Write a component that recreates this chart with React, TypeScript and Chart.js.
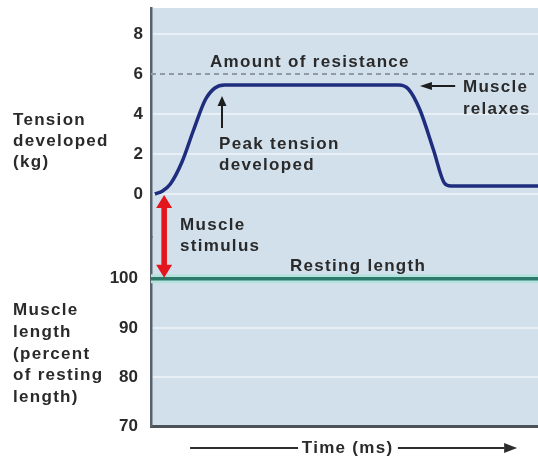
import React, { useEffect, useRef } from "react";
import { Chart, registerables } from "chart.js";

Chart.register(...registerables);

// ---- data ----
const TIME_MS = [1, 3, 5, 8, 11, 14, 16.5, 19, 64, 66.5, 69.5, 73, 75.8, 77.5, 100];
const TENSION_KG = [0, 0.15, 0.5, 1.6, 3.2, 4.7, 5.3, 5.45, 5.45, 5.25, 4.2, 2.2, 0.55, 0.4, 0.4];
const TENSION_TICKS = [0, 2, 4, 6, 8];
const LENGTH_TICKS = [70, 80, 90, 100];
const LENGTH_GRID = [80, 90];
const RESISTANCE_KG = 6;
const RESTING_LENGTH_PCT = 100;
const TIME_RANGE = [0, 100];
const STIMULUS_TIME = 3.4;

const FONT_FAMILY = '"Liberation Sans", Arial, Helvetica, sans-serif';
const TEXT_COLOR = "#2a2a2a";

function lineArrow(
  ctx: CanvasRenderingContext2D,
  x1: number, y1: number, x2: number, y2: number,
  headLen: number, headHalf: number
) {
  const ang = Math.atan2(y2 - y1, x2 - x1);
  const bx = x2 - headLen * Math.cos(ang);
  const by = y2 - headLen * Math.sin(ang);
  ctx.beginPath();
  ctx.moveTo(x1, y1);
  ctx.lineTo(bx, by);
  ctx.stroke();
  const px = -Math.sin(ang) * headHalf;
  const py = Math.cos(ang) * headHalf;
  ctx.beginPath();
  ctx.moveTo(x2, y2);
  ctx.lineTo(bx + px, by + py);
  ctx.lineTo(bx - px, by - py);
  ctx.closePath();
  ctx.fill();
}

function doubleBlockArrow(ctx: CanvasRenderingContext2D, x: number, y1: number, y2: number) {
  const headLen = 13;
  const headHalf = 8;
  const shaftHalf = 2.8;
  ctx.beginPath();
  ctx.moveTo(x, y1);
  ctx.lineTo(x + headHalf, y1 + headLen);
  ctx.lineTo(x + shaftHalf, y1 + headLen);
  ctx.lineTo(x + shaftHalf, y2 - headLen);
  ctx.lineTo(x + headHalf, y2 - headLen);
  ctx.lineTo(x, y2);
  ctx.lineTo(x - headHalf, y2 - headLen);
  ctx.lineTo(x - shaftHalf, y2 - headLen);
  ctx.lineTo(x - shaftHalf, y1 + headLen);
  ctx.lineTo(x - headHalf, y1 + headLen);
  ctx.closePath();
  ctx.fill();
}

const decorPlugin = {
  id: "decor",
  beforeDraw(chart: any) {
    const { ctx, chartArea: a } = chart;
    ctx.save();
    ctx.fillStyle = "#d2e0ec";
    ctx.fillRect(a.left, a.top, a.right - a.left, a.bottom - a.top);
    ctx.restore();
  },
  afterDatasetsDraw(chart: any) {
    const { ctx } = chart;
    const x = chart.scales.x;
    const yT = chart.scales.yT;
    const yL = chart.scales.yL;
    ctx.save();
    // stimulus arrow (red, double-headed) from tension 0 to resting length
    ctx.fillStyle = "#e3161d";
    doubleBlockArrow(
      ctx,
      x.getPixelForValue(STIMULUS_TIME),
      yT.getPixelForValue(0) + 1,
      yL.getPixelForValue(RESTING_LENGTH_PCT) - 1
    );
    // peak tension arrow
    ctx.strokeStyle = "#1e1e1e";
    ctx.fillStyle = "#1e1e1e";
    ctx.lineWidth = 2;
    lineArrow(ctx, x.getPixelForValue(18.35), yT.getPixelForValue(3.3),
      x.getPixelForValue(18.35), yT.getPixelForValue(4.9), 10, 4.5);
    // muscle relaxes arrow
    lineArrow(ctx, x.getPixelForValue(78.6), yT.getPixelForValue(5.4),
      x.getPixelForValue(69.5), yT.getPixelForValue(5.4), 12, 4);
    ctx.restore();
  },
  afterDraw(chart: any) {
    const { ctx, chartArea: a } = chart;
    const x = chart.scales.x;
    const yT = chart.scales.yT;
    const yL = chart.scales.yL;
    ctx.save();
    ctx.font = `bold 17px ${FONT_FAMILY}`;
    (ctx as any).letterSpacing = "1.3px";
    ctx.fillStyle = TEXT_COLOR;
    ctx.textAlign = "left";
    ctx.textBaseline = "alphabetic";

    // left axis titles
    const tLines = ["Tension", "developed", "(kg)"];
    tLines.forEach((s, i) => ctx.fillText(s, 13, 125 + i * 21));
    const lLines = ["Muscle", "length", "(percent", "of resting", "length)"];
    lLines.forEach((s, i) => ctx.fillText(s, 13, 315 + i * 21.8));

    // annotations
    ctx.fillText("Amount of resistance", x.getPixelForValue(15.25), yT.getPixelForValue(6.35));
    ctx.fillText("Peak tension", x.getPixelForValue(17.6), yT.getPixelForValue(2.25));
    ctx.fillText("developed", x.getPixelForValue(17.6), yT.getPixelForValue(1.2));
    ctx.fillText("Muscle", x.getPixelForValue(80.6), yT.getPixelForValue(5.1));
    ctx.fillText("relaxes", x.getPixelForValue(80.6), yT.getPixelForValue(4.0));
    ctx.fillText("Muscle", x.getPixelForValue(7.5), yT.getPixelForValue(-1.8));
    ctx.fillText("stimulus", x.getPixelForValue(7.5), yT.getPixelForValue(-2.85));
    ctx.fillText("Resting length", x.getPixelForValue(35.9), yL.getPixelForValue(101.6));

    // time axis label with arrow
    const ty = a.bottom + 22;
    ctx.textAlign = "center";
    ctx.fillText("Time (ms)", x.getPixelForValue(50.8), a.bottom + 27);
    ctx.strokeStyle = "#2e2e2e";
    ctx.fillStyle = "#2e2e2e";
    ctx.lineWidth = 2;
    ctx.beginPath();
    ctx.moveTo(x.getPixelForValue(10.1), ty);
    ctx.lineTo(x.getPixelForValue(38), ty);
    ctx.stroke();
    lineArrow(ctx, x.getPixelForValue(63.8), ty, x.getPixelForValue(94.6), ty, 13, 5);
    ctx.restore();
  },
};

const tickFont = { family: FONT_FAMILY, size: 17, weight: "bold" as const };

export default function App() {
  const canvasRef = useRef<HTMLCanvasElement | null>(null);

  useEffect(() => {
    if (!canvasRef.current) return;
    const curve = TIME_MS.map((t, i) => ({ x: t, y: TENSION_KG[i] }));
    const resistance = TIME_RANGE.map((t) => ({ x: t, y: RESISTANCE_KG }));
    const resting = TIME_RANGE.map((t) => ({ x: t, y: RESTING_LENGTH_PCT }));

    const chart = new Chart(canvasRef.current, {
      type: "line",
      data: {
        datasets: [
          {
            label: "Tension developed",
            data: curve,
            yAxisID: "yT",
            borderColor: "#1f2d7f",
            borderWidth: 3.5,
            pointRadius: 0,
            cubicInterpolationMode: "monotone",
            fill: false,
          },
          {
            label: "Amount of resistance",
            data: resistance,
            yAxisID: "yT",
            borderColor: "#8e9ba7",
            borderWidth: 2,
            borderDash: [5, 4],
            pointRadius: 0,
            fill: false,
          },
          {
            label: "Resting length",
            data: resting,
            yAxisID: "yL",
            borderColor: "#2d7a6b",
            borderWidth: 3.5,
            pointRadius: 0,
            fill: false,
          },
          {
            label: "Resting length halo",
            data: resting,
            yAxisID: "yL",
            borderColor: "#b4e2dd",
            borderWidth: 9,
            pointRadius: 0,
            fill: false,
          },
        ],
      },
      options: {
        responsive: false,
        animation: false,
        devicePixelRatio: 1,
        layout: { padding: { top: 8, right: 0, bottom: 0, left: 0 } },
        plugins: { legend: { display: false }, tooltip: { enabled: false } },
        scales: {
          x: {
            type: "linear",
            position: "bottom",
            min: TIME_RANGE[0],
            max: TIME_RANGE[1],
            ticks: { display: false },
            grid: { display: false, drawTicks: false },
            border: { display: true, color: "#4d5257", width: 3 },
            afterFit(s: any) {
              s.height = 38;
              s.paddingLeft = 0;
              s.paddingRight = 0;
            },
          },
          yT: {
            type: "linear",
            position: "left",
            stack: "left",
            stackWeight: 229,
            weight: 1,
            min: -2.15,
            max: 9.3,
            afterBuildTicks(s: any) {
              s.ticks = TENSION_TICKS.map((v) => ({ value: v }));
            },
            ticks: { font: tickFont, color: TEXT_COLOR, padding: 8, autoSkip: false },
            grid: {
              drawTicks: false,
              lineWidth: 2,
              color: (c: any) =>
                c.tick && c.tick.value === RESISTANCE_KG ? "rgba(0,0,0,0)" : "#e8f0f6",
            },
            border: { display: true, color: "#58626a", width: 2.5 },
            afterFit(s: any) {
              s.width = 151;
              s.paddingTop = 0;
              s.paddingBottom = 0;
            },
          },
          yL: {
            type: "linear",
            position: "left",
            stack: "left",
            stackWeight: 189,
            weight: 0,
            min: 70,
            max: 108.5,
            afterBuildTicks(s: any) {
              s.ticks = LENGTH_TICKS.map((v) => ({ value: v }));
            },
            ticks: { font: tickFont, color: TEXT_COLOR, padding: 13, autoSkip: false },
            grid: {
              drawTicks: false,
              lineWidth: 2,
              color: (c: any) =>
                c.tick && LENGTH_GRID.includes(c.tick.value) ? "#e8f0f6" : "rgba(0,0,0,0)",
            },
            border: { display: true, color: "#58626a", width: 2.5 },
            afterFit(s: any) {
              s.width = 151;
              s.paddingTop = 0;
              s.paddingBottom = 0;
            },
          },
        },
      } as any,
      plugins: [decorPlugin],
    });
    return () => chart.destroy();
  }, []);

  return (
    <div style={{ position: "absolute", left: 0, top: 0, width: 538, height: 464, background: "#fff" }}>
      <canvas ref={canvasRef} width={538} height={464} style={{ width: 538, height: 464, display: "block" }} />
    </div>
  );
}
